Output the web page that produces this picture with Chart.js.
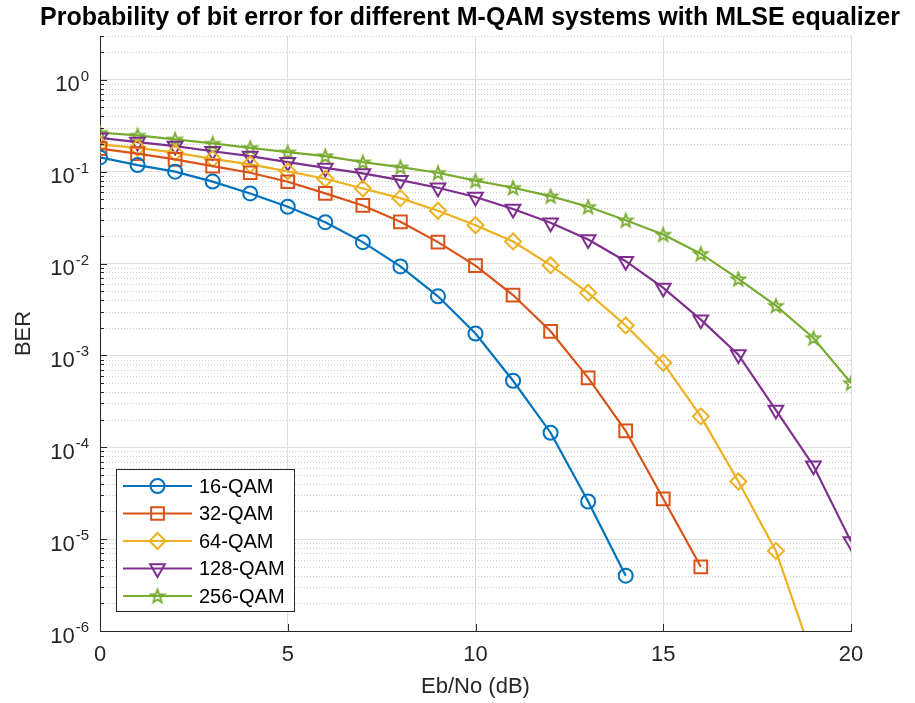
<!DOCTYPE html>
<html>
<head>
<meta charset="utf-8">
<script src="https://cdn.jsdelivr.net/npm/chart.js@4.4.1/dist/chart.umd.min.js"></script>
<style>
  html, body { margin: 0; padding: 0; background: #fff; }
</style>
</head>
<body>
<canvas id="myChart" width="915" height="703"></canvas>
<script>
// Eb/No (dB)
const ebno = [0, 1, 2, 3, 4, 5, 6, 7, 8, 9, 10, 11, 12, 13, 14, 15, 16, 17, 18, 19, 20];

// BER
const ber16 = [0.143, 0.118, 0.100, 0.078, 0.058, 0.0415, 0.0282, 0.0171, 0.0093, 0.0044, 0.00173, 5.3e-4, 1.44e-4, 2.57e-5, 4.0e-6];
const ber32 = [0.178, 0.157, 0.136, 0.115, 0.0974, 0.0777, 0.058, 0.0429, 0.0285, 0.0171, 0.0095, 0.00454, 0.00183, 5.7e-4, 1.51e-4, 2.75e-5, 5.0e-6];
const ber64 = [0.198, 0.182, 0.161, 0.138, 0.120, 0.101, 0.0838, 0.0657, 0.0515, 0.0376, 0.0261, 0.0174, 0.0096, 0.0048, 0.00212, 8.3e-4, 2.17e-4, 4.24e-5, 7.45e-6, 4.8e-7];
const ber128 = [0.234, 0.210, 0.190, 0.167, 0.148, 0.127, 0.110, 0.0957, 0.0809, 0.0668, 0.0531, 0.0393, 0.0278, 0.0183, 0.0106, 0.00543, 0.00245, 0.00102, 2.54e-4, 6.3e-5, 9.4e-6];
const ber256 = [0.266, 0.248, 0.225, 0.203, 0.182, 0.163, 0.148, 0.127, 0.112, 0.0974, 0.0798, 0.0668, 0.0542, 0.0415, 0.0296, 0.0207, 0.0128, 0.0068, 0.00348, 0.00155, 5.0e-4];

const seriesNames = ['16-QAM', '32-QAM', '64-QAM', '128-QAM', '256-QAM'];
const xTicks = [0, 5, 10, 15, 20];
const yDecades = [-6, -5, -4, -3, -2, -1, 0];

const titleText = 'Probability of bit error for different M-QAM systems with MLSE equalizer';
const axisColor = '#262626';
const fontFamily = '"Liberation Sans", Arial, Helvetica, sans-serif';

// pentagram marker like matlab 'p'
function makeStar(color) {
    const c = document.createElement('canvas');
    c.width = 18;
    c.height = 18;
    const g = c.getContext('2d');
    g.strokeStyle = color;
    g.lineWidth = 1.8;
    g.beginPath();
    for (let k = 0; k < 10; k++) {
        const r = k % 2 ? 2.9 : 7;
        const ang = -Math.PI / 2 + k * Math.PI / 5;
        const px = 9 + r * Math.cos(ang);
        const py = 9.6 + r * Math.sin(ang);
        if (k === 0) g.moveTo(px, py); else g.lineTo(px, py);
    }
    g.closePath();
    g.stroke();
    return c;
}

function toPoints(arr) {
    return arr.map((v, i) => ({ x: ebno[i], y: v }));
}

function makeSet(label, arr, color, style, radius, rotation) {
    return {
        label: label,
        data: toPoints(arr),
        borderColor: color,
        borderWidth: 2.2,
        pointStyle: style,
        pointRadius: radius,
        pointHoverRadius: radius,
        pointRotation: rotation || 0,
        pointBorderColor: color,
        pointBorderWidth: 2,
        pointBackgroundColor: 'rgba(0,0,0,0)',
        tension: 0,
        fill: false
    };
}

// all log ticks 1..9 x 10^k up to 3
const yTickValues = [];
yDecades.forEach(e => {
    for (let m = 1; m <= 9; m++) {
        const v = m * Math.pow(10, e);
        if (v <= 3.0001) yTickValues.push({ value: v, major: m === 1 });
    }
});

const extras = {
    id: 'extras',
    beforeDatasetsDraw(chart) {
        const { ctx, chartArea: a, scales: { y } } = chart;
        ctx.save();
        ctx.strokeStyle = '#cdcdcd';
        ctx.lineWidth = 1;
        ctx.setLineDash([1, 2]);
        y.ticks.forEach(t => {
            if (t.major) return;
            const py = Math.round(y.getPixelForValue(t.value)) + 0.5;
            ctx.beginPath();
            ctx.moveTo(a.left, py);
            ctx.lineTo(a.right, py);
            ctx.stroke();
        });
        ctx.restore();
    },
    afterDraw(chart) {
        const { ctx, chartArea: a, scales: { x, y } } = chart;
        ctx.save();

        // inward tick marks
        ctx.strokeStyle = axisColor;
        ctx.lineWidth = 1;
        y.ticks.forEach(t => {
            const py = Math.round(y.getPixelForValue(t.value)) + 0.5;
            ctx.beginPath();
            ctx.moveTo(a.left, py);
            ctx.lineTo(a.left + (t.major ? 7 : 4), py);
            ctx.stroke();
        });
        x.ticks.forEach(t => {
            const px = Math.round(x.getPixelForValue(t.value)) + 0.5;
            ctx.beginPath();
            ctx.moveTo(px, a.bottom);
            ctx.lineTo(px, a.bottom - 7);
            ctx.stroke();
        });

        // y tick labels 10^k
        ctx.fillStyle = axisColor;
        ctx.textBaseline = 'alphabetic';
        ctx.textAlign = 'left';
        yDecades.forEach(e => {
            const py = y.getPixelForValue(Math.pow(10, e));
            const ex = String(e);
            ctx.font = '15px ' + fontFamily;
            const ew = ctx.measureText(ex).width;
            ctx.font = '22px ' + fontFamily;
            const bw = ctx.measureText('10').width;
            const right = 89;
            ctx.fillText('10', right - ew - bw - 1, py + 11.5);
            ctx.font = '15px ' + fontFamily;
            ctx.fillText(ex, right - ew, py + 1);
        });

        // title
        ctx.fillStyle = '#000';
        ctx.font = 'bold 25px ' + fontFamily;
        ctx.textAlign = 'center';
        ctx.textBaseline = 'middle';
        ctx.fillText(titleText, 470, 18);

        // legend
        const bx = 116.5, by = 469.5, bw = 178, bh = 142;
        ctx.fillStyle = '#fff';
        ctx.fillRect(bx, by, bw, bh);
        ctx.strokeStyle = axisColor;
        ctx.lineWidth = 1;
        ctx.strokeRect(bx, by, bw, bh);
        chart.data.datasets.forEach((ds, i) => {
            const ly = 486 + i * 27.5;
            ctx.strokeStyle = ds.borderColor;
            ctx.lineWidth = ds.borderWidth;
            ctx.beginPath();
            ctx.moveTo(123, ly);
            ctx.lineTo(192, ly);
            ctx.stroke();
            ctx.fillStyle = 'rgba(0,0,0,0)';
            ctx.lineWidth = ds.pointBorderWidth;
            Chart.helpers.drawPoint(ctx, {
                pointStyle: ds.pointStyle,
                rotation: ds.pointRotation,
                radius: ds.pointRadius,
                borderWidth: ds.pointBorderWidth
            }, 157.5, ly);
            ctx.fillStyle = '#000';
            ctx.font = '20px ' + fontFamily;
            ctx.textAlign = 'left';
            ctx.textBaseline = 'middle';
            ctx.fillText(ds.label, 199, ly + 1);
        });

        ctx.restore();
    }
};

const ctx = document.getElementById('myChart').getContext('2d');
const myChart = new Chart(ctx, {
    type: 'line',
    data: {
        datasets: [
            makeSet(seriesNames[0], ber16, '#0072BD', 'circle', 7),
            makeSet(seriesNames[1], ber32, '#D95319', 'rect', 9),
            makeSet(seriesNames[2], ber64, '#EDB120', 'rectRot', 8),
            makeSet(seriesNames[3], ber128, '#7E2F8E', 'triangle', 8.5, 180),
            makeSet(seriesNames[4], ber256, '#77AC30', makeStar('#77AC30'), 7)
        ]
    },
    options: {
        responsive: false,
        animation: false,
        layout: {
            padding: { top: 36, right: 64, left: 0, bottom: 0 }
        },
        plugins: {
            legend: { display: false },
            title: { display: false },
            tooltip: { enabled: false }
        },
        scales: {
            x: {
                type: 'linear',
                min: 0,
                max: 20,
                afterBuildTicks: (scale) => {
                    scale.ticks = xTicks.map(v => ({ value: v }));
                },
                afterFit: (scale) => { scale.height = 72; },
                ticks: {
                    color: axisColor,
                    font: { family: fontFamily, size: 22 },
                    padding: 11,
                    maxRotation: 0
                },
                grid: {
                    color: '#dedede',
                    lineWidth: 1,
                    drawTicks: false
                },
                border: { color: axisColor, width: 1 },
                title: {
                    display: true,
                    text: 'Eb/No (dB)',
                    color: axisColor,
                    font: { family: fontFamily, size: 22 },
                    padding: { top: 0, bottom: 3 }
                }
            },
            y: {
                type: 'logarithmic',
                min: 1e-6,
                max: 3,
                afterBuildTicks: (scale) => {
                    scale.ticks = yTickValues.map(t => ({ value: t.value, major: t.major }));
                },
                afterFit: (scale) => { scale.width = 100; },
                ticks: { display: false },
                grid: {
                    color: (c) => (c.tick && c.tick.major) ? '#dedede' : 'rgba(0,0,0,0)',
                    lineWidth: 1,
                    drawTicks: false
                },
                border: { color: axisColor, width: 1 },
                title: {
                    display: true,
                    text: 'BER',
                    color: axisColor,
                    font: { family: fontFamily, size: 22 },
                    padding: { top: 11, bottom: 0 }
                }
            }
        }
    },
    plugins: [extras]
});
</script>
</body>
</html>
